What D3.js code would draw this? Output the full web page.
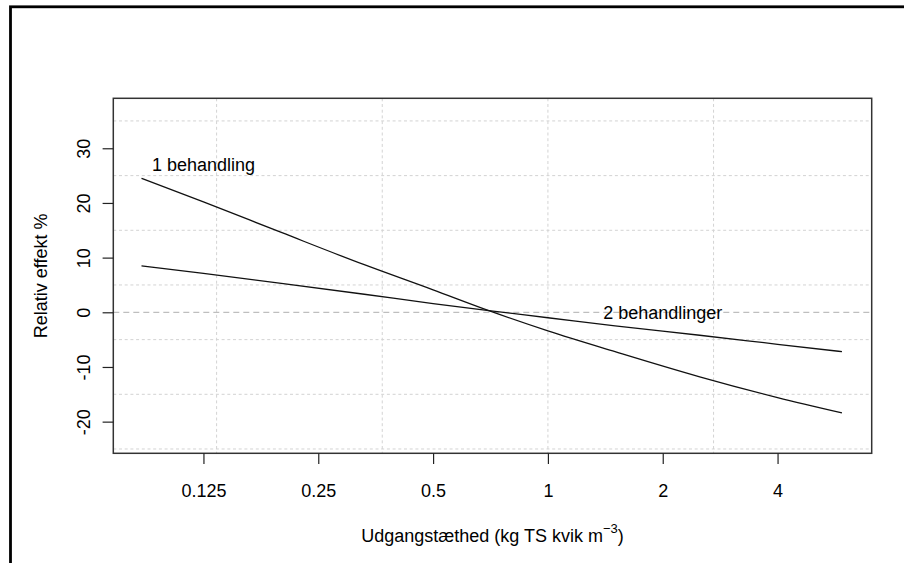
<!DOCTYPE html>
<html>
<head>
<meta charset="utf-8">
<script src="https://cdn.jsdelivr.net/npm/d3@7"></script>
<style>
    body { margin: 0; background: #fff; }
    svg text { font-family: "Liberation Sans", Arial, sans-serif; fill: #000; }
</style>
</head>
<body>
<svg id="chart" width="904" height="563"></svg>
<script>
// udgangstaethed (kg TS kvik m-3), log-akse
var density = [0.086, 0.125, 0.2, 0.33, 0.5, 0.7, 1, 1.5, 2.5, 4, 5.9];
// relativ effekt %
var oneTreatment = [24.5, 20.2, 14.6, 8.7, 4.1, 0.3, -3.4, -7.2, -11.8, -15.6, -18.4];
var twoTreatments = [8.5, 7.1, 5.3, 3.3, 1.6, 0.3, -1.0, -2.5, -4.2, -5.85, -7.2];

var xTicks = [0.125, 0.25, 0.5, 1, 2, 4];
var xTickLabels = ["0.125", "0.25", "0.5", "1", "2", "4"];
var yTicks = [-20, -10, 0, 10, 20, 30];
var xGrid = [Math.exp(-2), Math.exp(-1), Math.exp(0), Math.exp(1)];
var yGrid = [-25, -15, -5, 5, 15, 25, 35];

var seriesLabels = [
    { text: "1 behandling", x: 0.125, y: 27 },
    { text: "2 behandlinger", x: 2, y: 0 }
];

var svg = d3.select("#chart");
var box = { left: 113.3, right: 871.7, top: 98.3, bottom: 453.3 };

var x = d3.scaleLog().domain([0.07254, 7.061]).range([box.left, box.right]);
var y = d3.scaleLinear().domain([-25.79, 39.14]).range([box.bottom, box.top]);

// ydre ramme
svg.append("rect")
    .attr("x", 10.5).attr("y", 6.8)
    .attr("width", 1000).attr("height", 1000)
    .attr("fill", "none").attr("stroke", "#000").attr("stroke-width", 2.8);

// gitter
svg.append("g").selectAll("line")
    .data(xGrid).enter().append("line")
    .attr("x1", function (d) { return x(d); })
    .attr("x2", function (d) { return x(d); })
    .attr("y1", box.top).attr("y2", box.bottom)
    .attr("stroke", "#d3d3d3").attr("stroke-dasharray", "3,2.7");
svg.append("g").selectAll("line")
    .data(yGrid).enter().append("line")
    .attr("x1", box.left).attr("x2", box.right)
    .attr("y1", function (d) { return y(d); })
    .attr("y2", function (d) { return y(d); })
    .attr("stroke", "#d3d3d3").attr("stroke-dasharray", "3,2.7");

// nul-linie
svg.append("line")
    .attr("x1", box.left).attr("x2", box.right)
    .attr("y1", y(0)).attr("y2", y(0))
    .attr("stroke", "#bebebe").attr("stroke-width", 1.2)
    .attr("stroke-dasharray", "6,4");

var line = d3.line()
    .x(function (d) { return x(d[0]); })
    .y(function (d) { return y(d[1]); })
    .curve(d3.curveMonotoneX);

[oneTreatment, twoTreatments].forEach(function (vals) {
    svg.append("path")
        .datum(d3.zip(density, vals))
        .attr("d", line)
        .attr("fill", "none")
        .attr("stroke", "#111")
        .attr("stroke-width", 1.3);
});

svg.append("g").selectAll("text")
    .data(seriesLabels).enter().append("text")
    .attr("x", function (d) { return x(d.x); })
    .attr("y", function (d) { return y(d.y) + 6.6; })
    .attr("text-anchor", "middle")
    .style("font-size", "18px")
    .text(function (d) { return d.text; });

// plot-kasse
svg.append("rect")
    .attr("x", box.left).attr("y", box.top)
    .attr("width", box.right - box.left).attr("height", box.bottom - box.top)
    .attr("fill", "none").attr("stroke", "#333").attr("stroke-width", 1.5);

// x-akse
var xAxis = d3.axisBottom(x)
    .tickValues(xTicks)
    .tickSize(10.7)
    .tickPadding(21)
    .tickFormat(function (d, i) { return xTickLabels[i]; });
var gx = svg.append("g").attr("transform", "translate(0," + box.bottom + ")").call(xAxis);
gx.select(".domain").remove();
gx.selectAll(".tick line").attr("stroke", "#222").attr("stroke-width", 1.2);
gx.selectAll(".tick text")
    .attr("dy", null).attr("y", 43.4)
    .style("font-size", "18px").style("font-family", "Liberation Sans, Arial, sans-serif");

// y-akse (R bruger almindelig bindestreg som minus)
var yAxis = d3.axisLeft(y).tickValues(yTicks).tickSize(10.7)
    .tickFormat(function (d) { return String(d); });
var gy = svg.append("g").attr("transform", "translate(" + box.left + ",0)").call(yAxis);
gy.select(".domain").remove();
gy.selectAll(".tick line").attr("stroke", "#222").attr("stroke-width", 1.2);
gy.selectAll(".tick text")
    .attr("x", null).attr("dy", null)
    .attr("transform", "translate(-23.8,0) rotate(-90)")
    .attr("text-anchor", "middle")
    .style("font-size", "18px").style("font-family", "Liberation Sans, Arial, sans-serif");

// akse-titler
var xTitle = svg.append("text")
    .attr("x", (box.left + box.right) / 2)
    .attr("y", 541.7)
    .attr("text-anchor", "middle")
    .style("font-size", "18px");
xTitle.append("tspan").text("Udgangstæthed (kg TS kvik m");
xTitle.append("tspan").attr("dy", -9).style("font-size", "13px").text("\u22123");
xTitle.append("tspan").attr("dy", 9).text(")");

svg.append("text")
    .attr("transform", "translate(46.7," + ((box.top + box.bottom) / 2) + ") rotate(-90)")
    .attr("text-anchor", "middle")
    .style("font-size", "18px")
    .text("Relativ effekt %");
</script>
</body>
</html>
